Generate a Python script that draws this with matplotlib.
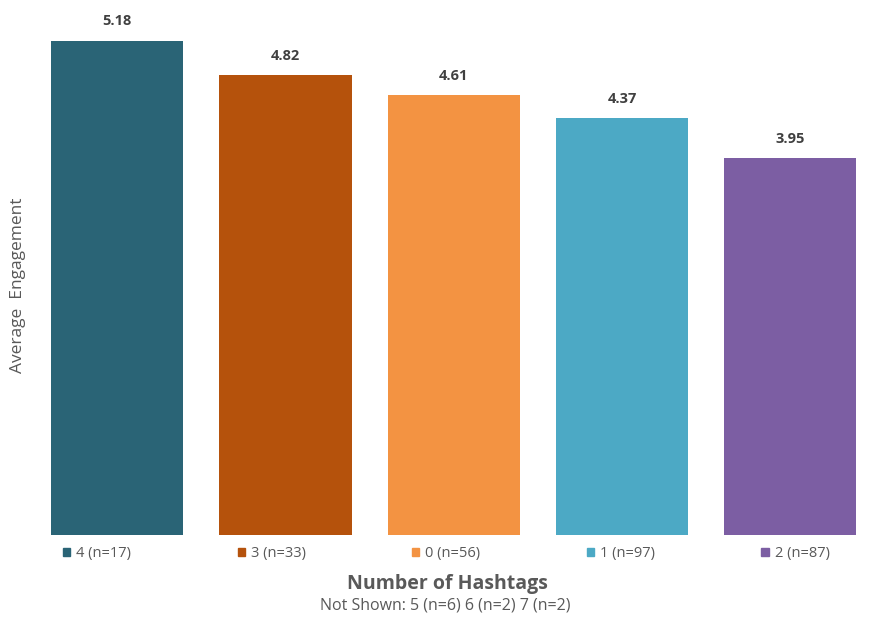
import matplotlib.pyplot as plt
from matplotlib.patches import Patch

plt.rcParams['font.family'] = ['Open Sans', 'DejaVu Sans']

hashtags = ["4", "3", "0", "1", "2"]
counts = [17, 33, 56, 97, 87]
engagement = [5.18, 4.82, 4.61, 4.37, 3.95]
colors = ["#2A6476", "#B5520C", "#F39342", "#4CA9C5", "#7C5EA3"]
not_shown = "Not Shown: 5 (n=6) 6 (n=2) 7 (n=2)"

fig = plt.figure(figsize=(8.71, 6.2), dpi=100)
W, H = 871, 620
# axes placed in pixel units
left, right, bottom, top = 41.4, 866, 535, 10.3
ax = fig.add_axes([left / W, (H - bottom) / H, (right - left) / W, (bottom - top) / H])

x = range(len(hashtags))
bars = ax.bar(x, engagement, width=0.786, color=colors)
for b, v in zip(bars, engagement):
    ax.text(b.get_x() + b.get_width() / 2, v + 0.13, f"{v:.2f}",
            ha="center", va="bottom", fontsize=10.5, fontweight="bold", color="#404040")

ax.set_xlim(-0.45, 4.45)
ax.set_ylim(0, 5.5)
ax.set_xticks([])
ax.set_yticks([])
for s in ax.spines.values():
    s.set_visible(False)

ax.set_ylabel("Average  Engagement", fontsize=12.5, color="#595959")
ax.yaxis.set_label_coords(-0.019, 0.476)

handles = [Patch(color=c) for c in colors]
labels = [f"{h} (n={n})" for h, n in zip(hashtags, counts)]
leg = ax.legend(handles, labels, ncol=5, loc="upper center", bbox_to_anchor=(0.491, 0.004),
                frameon=False, fontsize=10.5, handlelength=0.5, handleheight=0.5,
                handletextpad=0.4, columnspacing=7.3, labelcolor="#595959")

fig.text(447 / W, 1 - 584 / H, "Number of Hashtags", ha="center", va="center",
         fontsize=14, fontweight="bold", color="#595959")
fig.text(445 / W, 1 - 605 / H, not_shown, ha="center", va="center",
         fontsize=11.5, color="#595959")

fig.savefig("out.png", dpi=100)
